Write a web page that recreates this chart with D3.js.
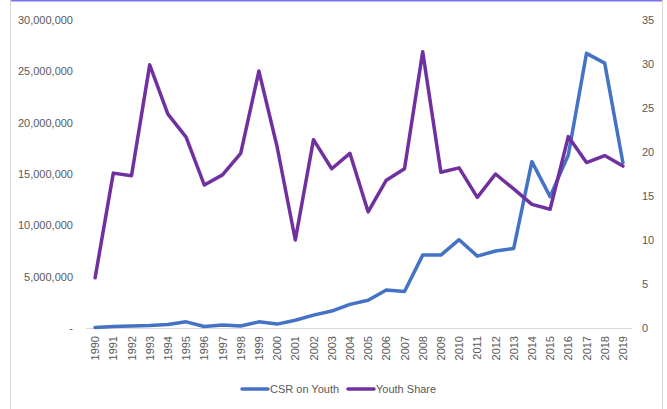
<!DOCTYPE html>
<html>
<head>
<meta charset="utf-8">
<script src="https://cdn.jsdelivr.net/npm/d3@7"></script>
<style>
  html, body { margin: 0; padding: 0; background: #fff; }
  svg { display: block; }
  text { font-family: "Liberation Sans", Arial, sans-serif; }
</style>
</head>
<body>
<svg id="chart" width="667" height="409"></svg>
<script>
// Years on the category axis
const years = ["1990","1991","1992","1993","1994","1995","1996","1997","1998","1999",
               "2000","2001","2002","2003","2004","2005","2006","2007","2008","2009",
               "2010","2011","2012","2013","2014","2015","2016","2017","2018","2019"];

// CSR spending on youth (left axis)
const csrOnYouth = [50000, 150000, 200000, 250000, 350000, 600000, 150000, 300000, 200000, 600000,
                    380000, 750000, 1250000, 1650000, 2300000, 2700000, 3700000, 3550000, 7100000, 7100000,
                    8600000, 7000000, 7500000, 7750000, 16200000, 12800000, 16850000, 26750000, 25800000, 16100000];

// Youth share, percent (right axis)
const youthShare = [5.7, 17.6, 17.3, 29.9, 24.3, 21.7, 16.25, 17.4, 19.85, 29.2,
                    20.6, 10.0, 21.4, 18.1, 19.85, 13.2, 16.8, 18.1, 31.4, 17.7,
                    18.2, 14.85, 17.5, 15.8, 14.05, 13.5, 21.75, 18.8, 19.6, 18.4];

const leftTicks = [0, 5000000, 10000000, 15000000, 20000000, 25000000, 30000000];
const rightTicks = [0, 5, 10, 15, 20, 25, 30, 35];

const seriesNames = ["CSR on Youth", "Youth Share"];
const seriesColors = ["#4472C4", "#7030A0"];

const svg = d3.select("#chart");
const W = 667, H = 409;
const plot = { left: 86, right: 632, top: 20, bottom: 328 };
const labelColor = "#595959";
const fontSize = "11px";

// Frame
svg.append("line").attr("x1", 10).attr("x2", 662).attr("y1", 0.75).attr("y2", 0.75)
  .attr("stroke", "#7474f0").attr("stroke-width", 1.5);
svg.append("line").attr("x1", 10.5).attr("x2", 10.5).attr("y1", 0).attr("y2", H)
  .attr("stroke", "#d9d9d9").attr("stroke-width", 1);
svg.append("line").attr("x1", 662.5).attr("x2", 662.5).attr("y1", 0).attr("y2", H)
  .attr("stroke", "#d9d9d9").attr("stroke-width", 1);

const x = d3.scaleBand().domain(years).range([plot.left, plot.right]);
const xc = d => x(d) + x.bandwidth() / 2;
const yL = d3.scaleLinear().domain([0, 30000000]).range([plot.bottom, plot.top]);
const yR = d3.scaleLinear().domain([0, 35]).range([plot.bottom, plot.top]);

const fmt = d3.format(",");

// Left axis
const leftAxis = d3.axisLeft(yL).tickValues(leftTicks)
  .tickFormat(d => d === 0 ? "-" : fmt(d)).tickSize(0).tickPadding(0);
const gL = svg.append("g").attr("transform", "translate(73,0)").call(leftAxis);
gL.select(".domain").remove();
gL.selectAll("text").attr("fill", labelColor).style("font-size", fontSize)
  .style("font-family", "'Liberation Sans', Arial, sans-serif");

// Right axis
const rightAxis = d3.axisRight(yR).tickValues(rightTicks).tickSize(0).tickPadding(0);
const gR = svg.append("g").attr("transform", "translate(642,0)").call(rightAxis);
gR.select(".domain").remove();
gR.selectAll("text").attr("fill", labelColor).style("font-size", fontSize)
  .style("font-family", "'Liberation Sans', Arial, sans-serif");

// Category axis
svg.append("line").attr("x1", plot.left).attr("x2", plot.right)
  .attr("y1", plot.bottom + 0.5).attr("y2", plot.bottom + 0.5)
  .attr("stroke", "#d9d9d9").attr("stroke-width", 1);
svg.append("g").selectAll("text").data(years).join("text")
  .attr("transform", d => `translate(${xc(d) + 4},336) rotate(-90)`)
  .attr("text-anchor", "end")
  .attr("fill", labelColor)
  .style("font-size", fontSize)
  .text(d => d);

// Lines
const lineL = d3.line().x((d, i) => xc(years[i])).y(d => yL(d));
const lineR = d3.line().x((d, i) => xc(years[i])).y(d => yR(d));

svg.append("path").datum(csrOnYouth).attr("d", lineL)
  .attr("fill", "none").attr("stroke", seriesColors[0]).attr("stroke-width", 3.5)
  .attr("stroke-linejoin", "round").attr("stroke-linecap", "round");
svg.append("path").datum(youthShare).attr("d", lineR)
  .attr("fill", "none").attr("stroke", seriesColors[1]).attr("stroke-width", 3.5)
  .attr("stroke-linejoin", "round").attr("stroke-linecap", "round");

// Legend
const legendX = [242, 348];
seriesNames.forEach((name, i) => {
  const g = svg.append("g").attr("transform", `translate(${legendX[i]},389)`);
  g.append("line").attr("x1", 0).attr("x2", 26).attr("y1", 0).attr("y2", 0)
    .attr("stroke", seriesColors[i]).attr("stroke-width", 3.5).attr("stroke-linecap", "round");
  g.append("text").attr("x", 28).attr("y", 4).attr("fill", labelColor)
    .style("font-size", fontSize).text(name);
});
</script>
</body>
</html>
